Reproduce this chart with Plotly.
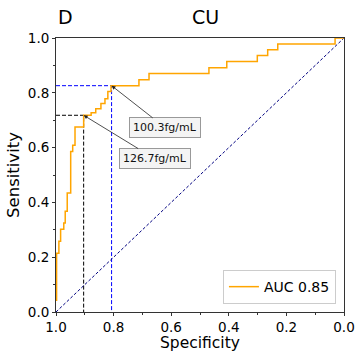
import plotly.graph_objects as go

# ROC curve vertices (specificity, sensitivity)
spec = [0.998, 0.998, 0.990, 0.990, 0.984, 0.984, 0.973, 0.973, 0.968, 0.968,
        0.961, 0.961, 0.949, 0.949, 0.942, 0.942, 0.934, 0.934, 0.904, 0.904,
        0.878, 0.878, 0.862, 0.862, 0.844, 0.844, 0.830, 0.830, 0.820, 0.820,
        0.809, 0.809, 0.712, 0.712, 0.677, 0.677, 0.469, 0.469, 0.407, 0.407,
        0.301, 0.301, 0.265, 0.265, 0.230, 0.230, 0.031, 0.031, 0.0]
sens = [0.040, 0.214, 0.214, 0.258, 0.258, 0.302, 0.302, 0.325, 0.325, 0.368,
        0.368, 0.434, 0.434, 0.586, 0.586, 0.609, 0.609, 0.675, 0.675, 0.718,
        0.718, 0.727, 0.727, 0.742, 0.742, 0.761, 0.761, 0.778, 0.778, 0.805,
        0.805, 0.826, 0.826, 0.848, 0.848, 0.870, 0.870, 0.891, 0.891, 0.914,
        0.914, 0.936, 0.936, 0.957, 0.957, 0.978, 0.978, 1.0, 1.0]

auc_label = "AUC 0.85"

# cut-off points
cut_labels = ["126.7fg/mL", "100.3fg/mL"]
cut_spec = [0.904, 0.807]
cut_sens = [0.718, 0.826]
cut_colors = ["#000000", "#0000FF"]
label_spec = [0.658, 0.620]
label_sens = [0.560, 0.672]

diag_x = [1.0, 0.0]
diag_y = [0.0, 1.0]

font = "DejaVu Sans"

fig = go.Figure()

# guide dashed lines
for s, t, c in zip(cut_spec, cut_sens, cut_colors):
    fig.add_trace(go.Scatter(x=[1.0, s, s], y=[t, t, 0.0], mode="lines",
                             line=dict(color=c, width=1, dash="4px,2px"),
                             showlegend=False, hoverinfo="skip"))

fig.add_trace(go.Scatter(x=diag_x, y=diag_y, mode="lines",
                         line=dict(color="#000080", width=1, dash="3px,2px"),
                         showlegend=False, hoverinfo="skip"))

fig.add_trace(go.Scatter(x=spec, y=sens, mode="lines", name=auc_label,
                         line=dict(color="#FFA500", width=1.5)))

for lab, s, t, lx, ly in zip(cut_labels, cut_spec, cut_sens, label_spec, label_sens):
    fig.add_annotation(x=s, y=t, xref="x", yref="y", ax=lx, ay=ly, axref="x", ayref="y",
                       text=lab, showarrow=True, arrowhead=2, arrowsize=1, arrowwidth=0.8,
                       arrowcolor="#222", font=dict(family=font, size=11, color="#111"),
                       bgcolor="#f4f4f4", bordercolor="#999", borderwidth=1, borderpad=3)

fig.add_annotation(x=0, y=1.075, xref="paper", yref="paper", text="D", showarrow=False,
                   xanchor="left", yanchor="middle", font=dict(family=font, size=19, color="black"))
fig.add_annotation(x=0.52, y=1.075, xref="paper", yref="paper", text="CU", showarrow=False,
                   xanchor="center", yanchor="middle", font=dict(family=font, size=19, color="black"))
fig.add_annotation(x=0.5, y=-0.15, xref="paper", yref="paper", text="Specificity", showarrow=False,
                   xanchor="center", yanchor="bottom", borderpad=0,
                   font=dict(family=font, size=15.5, color="black"))

axis_common = dict(showgrid=False, zeroline=False, showline=True, mirror=True,
                   linecolor="#333", linewidth=1, ticks="outside", ticklen=3,
                   tickcolor="#333", tickwidth=1, automargin=False,
                   tickfont=dict(family=font, size=13.5, color="black"),
                   minor=dict(ticks="outside", ticklen=2, dtick=0.1, tickcolor="#333"),
                   tick0=0, dtick=0.2, tickformat=".1f")

fig.update_xaxes(range=[1.0, 0.0], **axis_common)
fig.update_yaxes(range=[0.0, 1.0], title=dict(text="Sensitivity", standoff=4,
                 font=dict(family=font, size=16.5, color="black")), **axis_common)

fig.update_layout(width=356, height=354, margin=dict(l=56, r=12, t=38, b=42),
                  plot_bgcolor="white", paper_bgcolor="white",
                  font=dict(family=font),
                  legend=dict(x=0.972, y=0.029, xanchor="right", yanchor="bottom",
                              bgcolor="rgba(255,255,255,0.8)", bordercolor="#ccc", borderwidth=1,
                              font=dict(family=font, size=14, color="black")))

fig.write_html("out.html")
